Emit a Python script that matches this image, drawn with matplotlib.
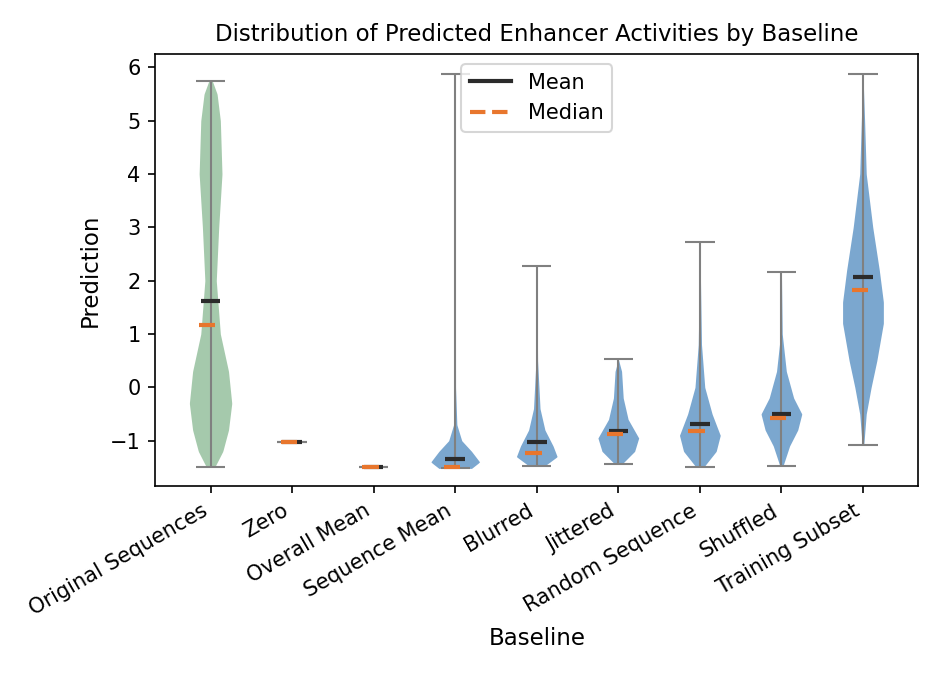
import numpy as np
import matplotlib
matplotlib.use('Agg')
import matplotlib.pyplot as plt
from matplotlib.lines import Line2D

baselines = ['Original Sequences', 'Zero', 'Overall Mean', 'Sequence Mean', 'Blurred',
             'Jittered', 'Random Sequence', 'Shuffled', 'Training Subset']
means = [1.62, -1.03, -1.50, -1.35, -1.03, -0.82, -0.68, -0.50, 2.07]
medians = [1.17, -1.03, -1.50, -1.50, -1.23, -0.88, -0.82, -0.58, 1.82]
mins = [-1.50, -1.03, -1.50, -1.52, -1.47, -1.43, -1.49, -1.47, -1.08]
maxs = [5.75, -1.03, -1.50, 5.87, 2.27, 0.53, 2.72, 2.17, 5.87]

# density profiles: (y levels, half widths)
profiles = [
    ([-1.5, -1.2, -0.8, -0.3, 0.3, 1.0, 2.0, 3.0, 4.0, 5.0, 5.5, 5.75],
     [0.05, 0.15, 0.22, 0.26, 0.22, 0.12, 0.07, 0.10, 0.14, 0.12, 0.08, 0.02]),
    None,
    None,
    ([-1.52, -1.4, -1.2, -1.0, -0.7, 0.0, 5.87],
     [0.20, 0.30, 0.20, 0.08, 0.02, 0.004, 0.0]),
    ([-1.47, -1.3, -1.1, -0.8, -0.4, 0.5, 2.27],
     [0.10, 0.25, 0.20, 0.10, 0.04, 0.01, 0.0]),
    ([-1.43, -1.2, -0.95, -0.6, -0.2, 0.3, 0.53],
     [0.05, 0.20, 0.25, 0.12, 0.06, 0.04, 0.0]),
    ([-1.49, -1.2, -0.9, -0.5, 0.0, 0.8, 2.72],
     [0.05, 0.20, 0.25, 0.15, 0.06, 0.02, 0.0]),
    ([-1.47, -1.1, -0.8, -0.5, -0.2, 0.3, 1.0, 2.17],
     [0.02, 0.10, 0.20, 0.25, 0.15, 0.06, 0.01, 0.0]),
    ([-1.08, -0.5, 0.0, 0.5, 1.2, 1.6, 2.2, 3.0, 4.0, 5.0, 5.87],
     [0.01, 0.04, 0.10, 0.17, 0.25, 0.25, 0.20, 0.12, 0.04, 0.02, 0.0]),
]

fig, ax = plt.subplots(figsize=(6.267, 4.5), dpi=150)

for i, name in enumerate(baselines):
    if profiles[i] is not None:
        ys, ws = profiles[i]
        yy = np.linspace(ys[0], ys[-1], 300)
        ww = np.interp(yy, ys, ws)
        color = '#8fbc98' if i == 0 else '#4f8ac0'
        ax.fill_betweenx(yy, i - ww, i + ww, color=color, alpha=0.8 if i == 0 else 0.75, lw=0)
    ax.vlines(i, mins[i], maxs[i], color='grey', lw=1)
    ax.hlines([mins[i], maxs[i]], i - 0.18, i + 0.18, color='grey', lw=1)
    ax.hlines(means[i], i - 0.12, i + 0.12, color='#2b2b2b', lw=2)
    ax.hlines(medians[i], i - 0.14, i + 0.06, color='#e8762d', lw=2)

ax.set_xticks(range(len(baselines)))
ax.set_xticklabels(baselines, rotation=30, ha='right')
ax.set_xlim(-0.68, 8.68)
ax.set_ylim(-1.85, 6.25)
ax.set_xlabel('Baseline', fontsize=11)
ax.set_ylabel('Prediction', fontsize=11)
ax.set_title('Distribution of Predicted Enhancer Activities by Baseline', fontsize=11)

handles = [Line2D([], [], color='#2b2b2b', lw=2, label='Mean'),
           Line2D([], [], color='#e8762d', lw=2, ls='--', label='Median')]
ax.legend(handles=handles, loc='upper center')

plt.subplots_adjust(left=0.165, right=0.977, top=0.92, bottom=0.28)
plt.savefig('out.png', dpi=150)
